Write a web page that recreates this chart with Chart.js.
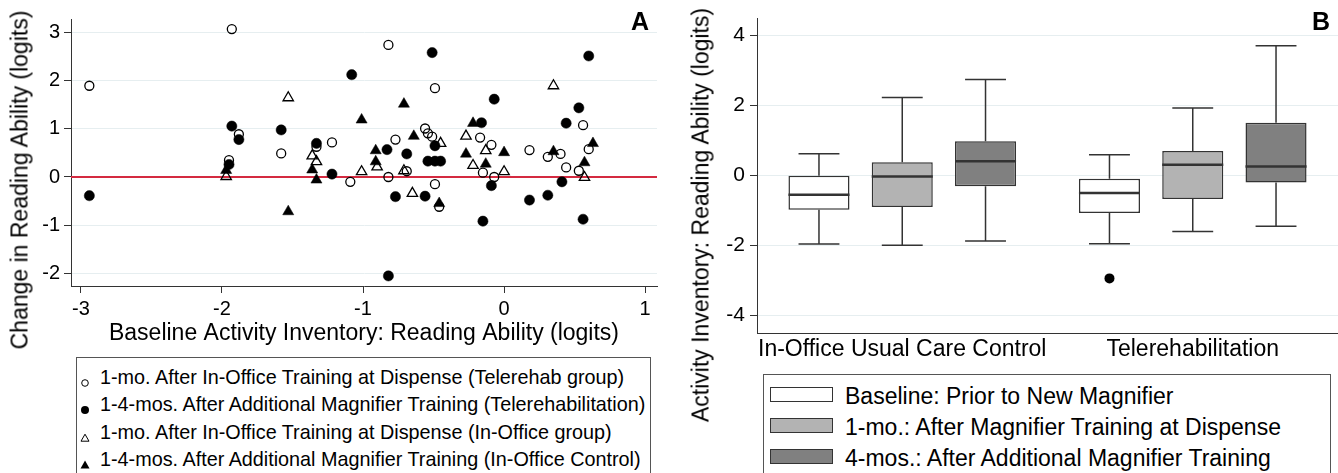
<!DOCTYPE html>
<html>
<head>
<meta charset="utf-8">
<script src="https://cdn.jsdelivr.net/npm/chart.js@4.4.1/dist/chart.umd.min.js"></script>
<style>
html, body { margin: 0; padding: 0; background: #fff; overflow: hidden; }
body { width: 1338px; height: 473px; position: relative; font-family: 'Liberation Sans', Arial, Helvetica, sans-serif; color: #000; }
canvas { position: absolute; }
#chartA { left: 0; top: 0; }
#chartB { left: 670px; top: 0; }
.ytitle { position: absolute; white-space: nowrap; font-size: 23px; transform: translate(-50%, -50%) rotate(-90deg); }
.panel { position: absolute; font-weight: bold; font-size: 25px; transform: translate(-50%, -50%); }
.legend { position: absolute; border: 1px solid #555; background: #fff; box-sizing: border-box; }
.row { position: absolute; left: 0; white-space: nowrap; display: flex; align-items: center; }
.swatch { position: absolute; box-sizing: border-box; border: 1.5px solid #333; }
</style>
</head>
<body>
<canvas id="chartA" width="670" height="355"></canvas>
<canvas id="chartB" width="668" height="370"></canvas>
<div class="ytitle" style="left:20px; top:180px;">Change in Reading Ability (logits)</div>
<div class="ytitle" style="left:701px; top:215px;">Activity Inventory: Reading Ability (logits)</div>
<div class="panel" style="left:640px; top:21px;">A</div>
<div class="panel" style="left:1321px; top:21px;">B</div>
<div id="legendA" class="legend" style="left:76px; top:357px; width:575px; height:130px;"></div>
<div id="legendB" class="legend" style="left:763px; top:374px; width:568px; height:120px;"></div>
<script>
// ---- Panel A: change vs baseline (logits) ----
const seriesNamesA = [
  '1-mo. After In-Office Training at Dispense (Telerehab group)',
  '1-4-mos. After Additional Magnifier Training (Telerehabilitation)',
  '1-mo. After In-Office Training at Dispense (In-Office group)',
  '1-4-mos. After Additional Magnifier Training (In-Office Control)'
];
const teleOneMonth = [
  [-2.94, 1.90], [-1.93, 3.08], [-1.88, 0.89], [-1.95, 0.35], [-1.58, 0.49], [-1.33, 0.63],
  [-1.22, 0.72], [-1.09, -0.10], [-0.82, 2.75], [-0.49, 1.85], [0.56, 1.08], [0.60, 0.58],
  [-0.56, 1.01], [-0.54, 0.91], [-0.51, 0.84], [-0.77, 0.78], [-0.82, 0.00], [-0.69, 0.12],
  [-0.49, -0.15], [-0.17, 0.82], [-0.09, 0.67], [-0.15, 0.09], [-0.07, 0.00], [0.18, 0.56],
  [0.31, 0.42], [0.40, 0.48], [0.44, 0.20], [0.53, 0.13], [-0.46, -0.62]
];
const teleFourMonth = [
  [-2.94, -0.39], [-1.93, 1.06], [-1.88, 0.78], [-1.95, 0.26], [-1.58, 0.98], [-1.33, 0.70],
  [-1.22, 0.06], [-1.08, 2.13], [-0.51, 2.59], [-0.07, 1.62], [0.53, 1.44], [0.60, 2.52],
  [0.44, 1.12], [-0.16, 1.13], [-0.49, 0.65], [-0.83, 0.57], [-0.69, 0.48], [-0.54, 0.33],
  [-0.49, 0.33], [-0.45, 0.33], [-0.09, -0.18], [0.41, -0.10], [-0.77, -0.41], [-0.56, -0.40],
  [-0.15, -0.92], [0.18, -0.48], [0.31, -0.38], [0.56, -0.88], [-0.82, -2.06]
];
const officeOneMonth = [
  [-1.97, 0.01], [-1.53, 1.65], [-1.36, 0.44], [-1.33, 0.32], [-1.01, 0.11], [0.35, 1.90],
  [-0.45, 0.70], [-0.90, 0.21], [-0.71, 0.13], [-0.27, 0.85], [-0.13, 0.55], [-0.22, 0.24],
  [0.00, 0.11], [0.57, -0.01], [-0.65, -0.34]
];
const officeFourMonth = [
  [-1.97, 0.14], [-1.53, -0.72], [-1.36, 0.15], [-1.33, -0.06], [-1.01, 1.19], [-0.71, 1.52],
  [-0.22, 1.12], [0.63, 0.70], [-0.64, 0.85], [-0.91, 0.55], [-0.91, 0.32], [-0.27, 0.48],
  [0.00, 0.51], [-0.13, 0.27], [0.35, 0.53], [0.57, 0.30], [-0.46, -0.55]
];
const xTicksA = [-3, -2, -1, 0, 1];
const yTicksA = [-2, -1, 0, 1, 2, 3];

// ---- Panel B: box plots [min, q1, median, q3, max] per group ----
const groupLabels = ['In-Office Usual Care Control', 'Telerehabilitation'];
const timeLabels = [
  'Baseline: Prior to New Magnifier',
  '1-mo.: After Magnifier Training at Dispense',
  '4-mos.: After Additional Magnifier Training'
];
const baselineStats = [[-1.96, -0.98, -0.55, -0.01, 0.62], [-1.95, -1.07, -0.50, -0.09, 0.59]];
const oneMonthStats = [[-1.99, -0.90, -0.03, 0.38, 2.23], [-1.60, -0.67, 0.31, 0.70, 1.93]];
const fourMonthStats = [[-1.87, -0.31, 0.41, 0.98, 2.74], [-1.45, -0.20, 0.26, 1.51, 3.71]];
const baselineOutliers = [[], [-2.94]];
const oneMonthOutliers = [[], []];
const fourMonthOutliers = [[], []];
const yTicksB = [-4, -2, 0, 2, 4];

const FONT = "'Liberation Sans', Arial, Helvetica, sans-serif";
Chart.defaults.font.family = FONT;
Chart.defaults.color = '#000';

const gridColor = '#e6eef0';
const axisColor = '#333';

const toPts = arr => arr.map(p => ({ x: p[0], y: p[1] }));

const zeroLine = {
  id: 'zeroLine',
  beforeDatasetsDraw(chart) {
    const { ctx, chartArea } = chart;
    const y = chart.scales.y.getPixelForValue(0);
    ctx.save();
    ctx.strokeStyle = '#d42a40';
    ctx.lineWidth = 2;
    ctx.beginPath();
    ctx.moveTo(chartArea.left, y);
    ctx.lineTo(chartArea.right, y);
    ctx.stroke();
    ctx.restore();
  }
};

new Chart(document.getElementById('chartA'), {
  type: 'scatter',
  data: {
    datasets: [
      { label: seriesNamesA[0], data: toPts(teleOneMonth), pointStyle: 'circle', pointRadius: 4.5,
        borderWidth: 1.3, borderColor: '#000', backgroundColor: 'rgba(0,0,0,0)' },
      { label: seriesNamesA[1], data: toPts(teleFourMonth), pointStyle: 'circle', pointRadius: 5.1,
        borderWidth: 0.5, borderColor: '#000', backgroundColor: '#000' },
      { label: seriesNamesA[2], data: toPts(officeOneMonth), pointStyle: 'triangle', pointRadius: 6,
        borderWidth: 1.3, borderColor: '#000', backgroundColor: 'rgba(0,0,0,0)' },
      { label: seriesNamesA[3], data: toPts(officeFourMonth), pointStyle: 'triangle', pointRadius: 6.4,
        borderWidth: 0.5, borderColor: '#000', backgroundColor: '#000' }
    ]
  },
  options: {
    responsive: false,
    animation: false,
    layout: { padding: { left: 0, top: 19, right: 13, bottom: 0 } },
    plugins: { legend: { display: false }, tooltip: { enabled: false } },
    scales: {
      x: {
        type: 'linear', min: -3.07, max: 1.084,
        afterBuildTicks: s => { s.ticks = xTicksA.map(v => ({ value: v })); },
        afterFit: s => { s.height = 69; },
        grid: { drawOnChartArea: false, tickLength: 7, tickColor: axisColor },
        border: { color: axisColor, width: 1 },
        ticks: { font: { size: 20 }, color: '#000', padding: 4, maxRotation: 0 },
        title: { display: true, text: 'Baseline Activity Inventory: Reading Ability (logits)',
          font: { size: 23 }, color: '#000', padding: { top: 0, bottom: 8 } }
      },
      y: {
        type: 'linear', min: -2.27, max: 3.29,
        afterBuildTicks: s => { s.ticks = yTicksA.map(v => ({ value: v })); },
        afterFit: s => { s.width = 71; },
        grid: { color: gridColor, tickLength: 7, tickColor: axisColor },
        border: { color: axisColor, width: 1 },
        ticks: { font: { size: 20 }, color: '#000', padding: 4 }
      }
    }
  },
  plugins: [zeroLine]
});

const boxWhiskers = {
  id: 'boxWhiskers',
  afterDatasetsDraw(chart) {
    const { ctx } = chart;
    const ys = chart.scales.y;
    chart.data.datasets.forEach((ds, di) => {
      const meta = chart.getDatasetMeta(di);
      meta.data.forEach((bar, i) => {
        const s = ds.stats[i];
        const half = bar.width / 2;
        const cap = half * 0.67;
        const py = v => ys.getPixelForValue(v);
        ctx.save();
        ctx.strokeStyle = axisColor;
        ctx.lineWidth = 1.5;
        ctx.beginPath();
        ctx.moveTo(bar.x, py(s[3])); ctx.lineTo(bar.x, py(s[4]));
        ctx.moveTo(bar.x - cap, py(s[4])); ctx.lineTo(bar.x + cap, py(s[4]));
        ctx.moveTo(bar.x, py(s[1])); ctx.lineTo(bar.x, py(s[0]));
        ctx.moveTo(bar.x - cap, py(s[0])); ctx.lineTo(bar.x + cap, py(s[0]));
        ctx.stroke();
        ctx.lineWidth = 2.5;
        ctx.beginPath();
        ctx.moveTo(bar.x - half, py(s[2])); ctx.lineTo(bar.x + half, py(s[2]));
        ctx.stroke();
        ctx.fillStyle = '#000';
        ds.outliers[i].forEach(v => {
          ctx.beginPath();
          ctx.arc(bar.x, py(v), 5, 0, Math.PI * 2);
          ctx.fill();
        });
        ctx.restore();
      });
    });
  }
};

const boxFills = ['#ffffff', '#b3b3b3', '#808080'];
const boxSets = [
  [baselineStats, baselineOutliers],
  [oneMonthStats, oneMonthOutliers],
  [fourMonthStats, fourMonthOutliers]
];

new Chart(document.getElementById('chartB'), {
  type: 'bar',
  data: {
    labels: groupLabels,
    datasets: boxSets.map(([stats, outl], k) => ({
      label: timeLabels[k],
      data: stats.map(s => [s[1], s[3]]),
      stats: stats,
      outliers: outl,
      backgroundColor: boxFills[k],
      borderColor: axisColor,
      borderWidth: 1.5,
      borderSkipped: false,
      categoryPercentage: 0.86,
      barPercentage: 0.733
    }))
  },
  options: {
    responsive: false,
    animation: false,
    layout: { padding: { left: 0, top: 18, right: 0, bottom: 0 } },
    plugins: { legend: { display: false }, tooltip: { enabled: false } },
    scales: {
      x: {
        afterFit: s => { s.height = 37; },
        grid: { display: false, drawTicks: false, tickLength: 0 },
        border: { display: true, color: axisColor, width: 1 },
        ticks: { font: { size: 23 }, color: '#000', padding: 3, maxRotation: 0, autoSkip: false }
      },
      y: {
        min: -4.5, max: 4.5,
        afterBuildTicks: s => { s.ticks = yTicksB.map(v => ({ value: v })); },
        afterFit: s => { s.width = 87; },
        grid: { color: gridColor, tickLength: 7, tickColor: axisColor },
        border: { color: axisColor, width: 1 },
        ticks: { font: { size: 21 }, color: '#000', padding: 5 }
      }
    }
  },
  plugins: [boxWhiskers]
});

// ---- HTML legends ----
const markerSvg = [
  '<svg width="12" height="12"><circle cx="6" cy="6" r="3.3" fill="none" stroke="#000" stroke-width="1"/></svg>',
  '<svg width="12" height="12"><circle cx="6" cy="6" r="4" fill="#000"/></svg>',
  '<svg width="12" height="12"><polygon points="6,2.2 10,9.2 2,9.2" fill="none" stroke="#000" stroke-width="1"/></svg>',
  '<svg width="12" height="12"><polygon points="6,1.5 10.5,9.5 1.5,9.5" fill="#000"/></svg>'
];
const legA = document.getElementById('legendA');
seriesNamesA.forEach((name, i) => {
  const row = document.createElement('div');
  row.className = 'row';
  row.style.top = (19 + i * 27.4 - 14) + 'px';
  row.style.height = '28px';
  row.style.fontSize = '19.8px';
  row.innerHTML = '<span style="position:absolute;left:2px;top:8px;">' + markerSvg[i] + '</span>' +
    '<span style="position:absolute;left:23px;line-height:28px;">' + name + '</span>';
  legA.appendChild(row);
});
const legB = document.getElementById('legendB');
timeLabels.forEach((name, i) => {
  const top = 20 + i * 31;
  const sw = document.createElement('div');
  sw.className = 'swatch';
  sw.style.cssText += 'left:6px;width:63px;height:15px;top:' + (top - 8) + 'px;background:' + boxFills[i] + ';';
  legB.appendChild(sw);
  const tx = document.createElement('div');
  tx.className = 'row';
  tx.style.cssText += 'left:81px;top:' + (top - 15 + 1) + 'px;height:30px;line-height:30px;font-size:23px;';
  tx.textContent = name;
  legB.appendChild(tx);
});
</script>
</body>
</html>
